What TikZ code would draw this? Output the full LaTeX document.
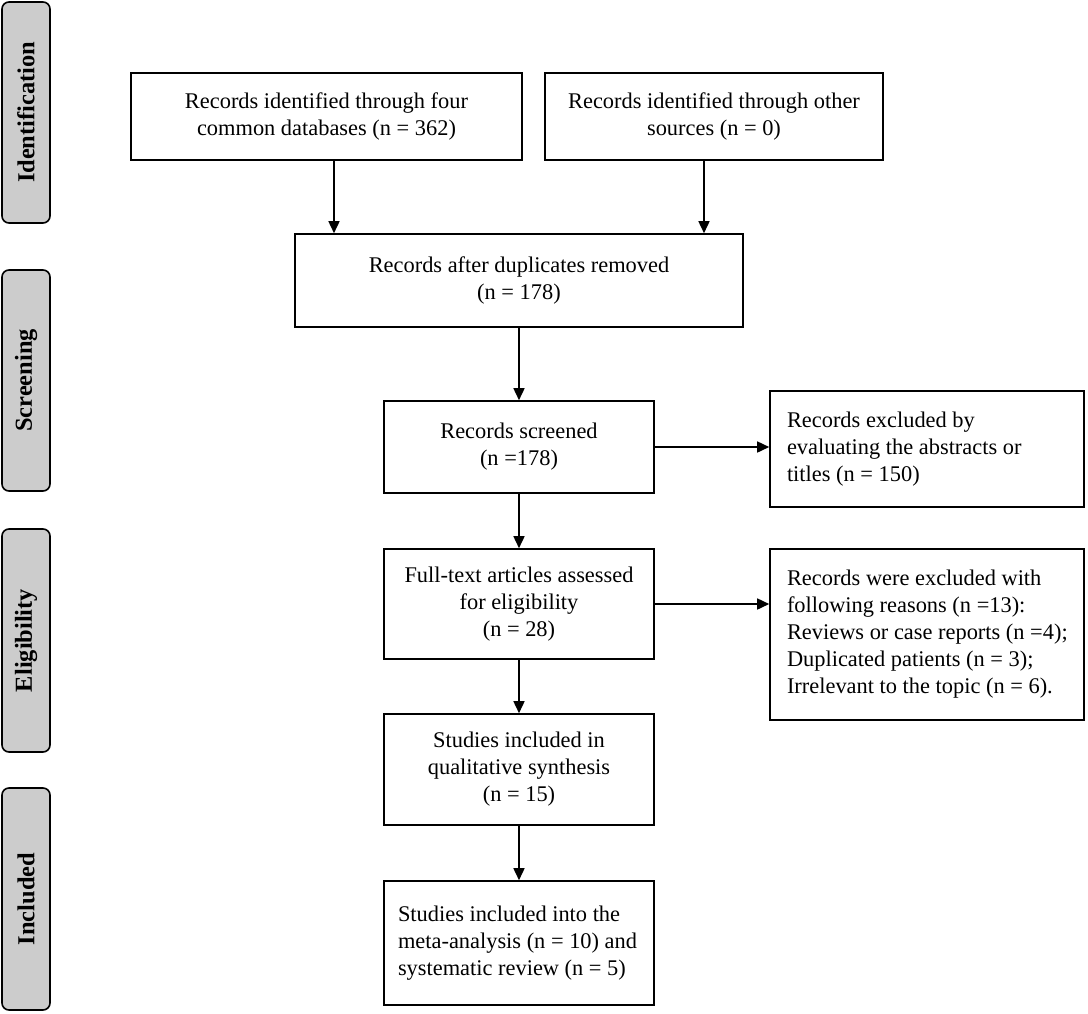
\documentclass[tikz,border=0pt]{standalone}
\usepackage{fontspec}
\setmainfont{Liberation Serif}
\usetikzlibrary{arrows.meta}
\definecolor{phase}{RGB}{204,204,204}
\newcommand{\mainfs}{\fontsize{22.4}{27}\selectfont}
\newcommand{\phasefs}{\fontsize{24.4}{28}\selectfont\bfseries}
\tikzset{
  box/.style={draw, line width=1.6pt, rectangle, inner sep=0pt, align=center, font=\mainfs},
  lbox/.style={draw, line width=1.6pt, rectangle, inner xsep=17pt, inner ysep=0pt, align=flush left, font=\mainfs},
  phasebox/.style={draw, line width=1.6pt, fill=phase, rounded corners=7pt, inner sep=0pt, minimum width=48pt, font=\phasefs},
  arr/.style={-{Triangle[length=12pt,width=11pt]}, line width=1.6pt}
}
\begin{document}
\begin{tikzpicture}[x=1pt,y=-1pt]
\useasboundingbox (0,0) rectangle (1088,1013);
% phase labels
\node[phasebox, minimum height=221pt] (pid) at (26,112.5) {\rotatebox{90}{Identification}};
\node[phasebox, minimum height=221pt] (psc) at (26,380.5) {\rotatebox{90}{Screening}};
\node[phasebox, minimum height=223pt] (pel) at (26,640.5) {\rotatebox{90}{Eligibility}};
\node[phasebox, minimum height=222pt] (pin) at (26,899) {\rotatebox{90}{Included}};
% boxes
\node[box, minimum width=391pt, minimum height=87pt] (b1) at (326.5,116.5) {Records identified through four\\common databases (n = 362)};
\node[box, minimum width=338pt, minimum height=87pt] (b2) at (714,116.5) {Records identified through other\\sources (n = 0)};
\node[box, minimum width=448pt, minimum height=93pt] (b3) at (519,280.5) {Records after duplicates removed\\(n = 178)};
\node[box, minimum width=270pt, minimum height=92pt] (b4) at (519,447) {Records screened\\(n =178)};
\node[lbox, text width=280pt, minimum height=116pt] (b5) at (927,449) {Records excluded by\\evaluating the abstracts or\\titles (n = 150)};
\node[box, minimum width=270pt, minimum height=110pt] (b6) at (519,604) {Full-text articles assessed\\for eligibility\\(n = 28)};
\node[lbox, text width=280pt, minimum height=171pt] (b7) at (927,634.5) {Records were excluded with\\following reasons (n =13):\\\mbox{Reviews or case reports (n =4);}\\Duplicated patients (n = 3);\\Irrelevant to the topic (n = 6).};
\node[box, minimum width=270pt, minimum height=111pt] (b8) at (519,769.5) {Studies included in\\qualitative synthesis\\(n = 15)};
\node[lbox, inner xsep=14pt, text width=242pt, minimum height=124pt] (b9) at (519,943) {Studies included into the\\\mbox{meta-analysis (n = 10) and}\\systematic review (n = 5)};
% connector columns
\coordinate (c1) at (334,0);
\coordinate (c2) at (704,0);
% connectors
\draw[arr] (b1.south -| c1) -- (b3.north -| c1);
\draw[arr] (b2.south -| c2) -- (b3.north -| c2);
\draw[arr] (b3.south) -- (b4.north);
\draw[arr] (b4.east) -- (b4.east -| b5.west);
\draw[arr] (b4.south) -- (b6.north);
\draw[arr] (b6.east) -- (b6.east -| b7.west);
\draw[arr] (b6.south) -- (b8.north);
\draw[arr] (b8.south) -- (b9.north);
\end{tikzpicture}
\end{document}
